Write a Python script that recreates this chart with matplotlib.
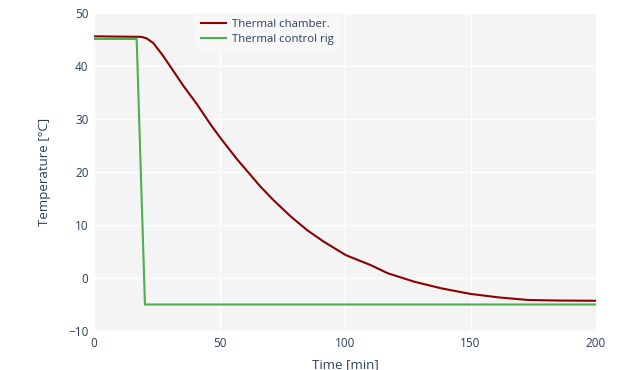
import matplotlib
matplotlib.use("Agg")
import matplotlib.pyplot as plt

chamber_t = [0, 19, 21, 23.7, 27.7, 31.7, 35.7, 41, 46.4, 50.4, 57, 66.4, 71.7, 78.4,
             85, 91.7, 100.4, 110.4, 117, 127.6, 138.4, 150, 161, 173, 185, 200]
chamber_temp = [45.6, 45.5, 45.2, 44.3, 41.8, 39.0, 36.2, 32.8, 29.0, 26.4, 22.4, 17.2,
                14.6, 11.6, 9.0, 6.8, 4.3, 2.4, 0.9, -0.7, -1.95, -3.0, -3.65, -4.15,
                -4.25, -4.3]
rig_t = [0, 17, 20.3, 200]
rig_temp = [45.1, 45.1, -5, -5]

x_ticks = [0, 50, 100, 150, 200]
y_ticks = [-10, 0, 10, 20, 30, 40, 50]

plt.rcParams['font.family'] = ['Open Sans', 'DejaVu Sans']
txt = '#2a3f5f'

fig = plt.figure(figsize=(6.4, 3.7), dpi=100)
ax = fig.add_axes([94/640, 39/370, 502/640, 318/370])
ax.set_facecolor('#f4f4f4')
ax.plot(chamber_t, chamber_temp, color='#8b0000', lw=1.5, label='Thermal chamber.', zorder=3)
ax.plot(rig_t, rig_temp, color='#4caf50', lw=1.5, label='Thermal control rig', zorder=3)

ax.set_xlim(0, 200)
ax.set_ylim(-10, 50)
ax.set_xticks(x_ticks)
ax.set_yticks(y_ticks)
ax.grid(True, color='white', lw=1)
ax.set_axisbelow(True)
for s in ax.spines.values():
    s.set_visible(False)
ax.tick_params(length=0, labelsize=8.5, colors=txt, pad=4)
ax.set_yticklabels([str(v).replace('-', '−') for v in y_ticks])
ax.set_xlabel('Time [min]', color=txt, fontsize=9.5, labelpad=6)
ax.set_ylabel('Temperature [°C]', color=txt, fontsize=9.5, labelpad=12)

leg = ax.legend(loc='upper left', bbox_to_anchor=((195-94)/502, 1.0), frameon=True,
                fontsize=8.2, handlelength=2.2, handletextpad=0.5, borderpad=0.55,
                labelspacing=0.35, fancybox=False, borderaxespad=0)
leg.get_frame().set_facecolor('#f8f8f8')
leg.get_frame().set_edgecolor('none')
leg.get_frame().set_alpha(0.9)
for t in leg.get_texts():
    t.set_color(txt)

fig.savefig('out.png', dpi=100)
